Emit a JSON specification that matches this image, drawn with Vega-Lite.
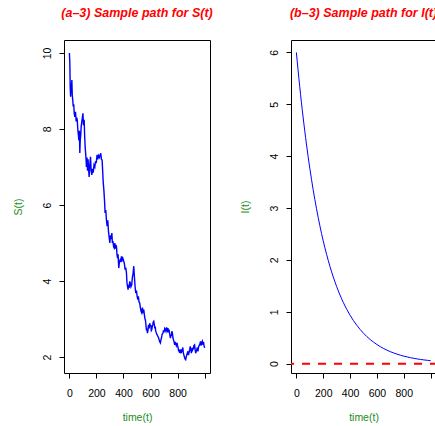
{
  "$schema": "https://vega.github.io/schema/vega-lite/v6.json",
  "autosize": {"type": "pad"},
  "padding": {"left": 12, "top": 6, "right": 0, "bottom": 0},
  "background": "white",
  "config": {
    "view": {"stroke": "#000000", "strokeWidth": 1},
    "axis": {
      "domain": false, "grid": false, "ticks": true, "tickColor": "#000000", "tickSize": 5, "tickWidth": 1,
      "labelFont": "Liberation Sans", "labelFontSize": 10.5, "labelColor": "#000000",
      "titleFont": "Liberation Sans", "titleFontSize": 10.5, "titleFontWeight": "normal", "titleColor": "#228B22"
    },
    "title": {"font": "Liberation Sans", "fontSize": 12.5, "fontStyle": "italic", "fontWeight": "bold", "color": "#FF0000", "anchor": "middle", "baseline": "alphabetic", "offset": 21}
  },
  "bounds": "flush",
  "spacing": 81,
  "hconcat": [
    {
      "width": 146, "height": 333,
      "title": "(a–3) Sample path for S(t)",
      "data": {"values": [
        {"t":0,"s":10.0},{"t":3,"s":9.75},{"t":6,"s":9.1},{"t":9,"s":8.85},{"t":12,"s":9.2},{"t":15,"s":9.0},{"t":18,"s":9.29},{"t":21,"s":8.9},{"t":25,"s":8.75},{"t":28,"s":8.59},{"t":32,"s":8.65},{"t":36,"s":8.4},{"t":40,"s":8.32},{"t":45,"s":8.45},{"t":50,"s":8.2},{"t":54,"s":8.3},{"t":58,"s":8.24},{"t":62,"s":8.0},{"t":65,"s":7.89},{"t":70,"s":7.7},{"t":74,"s":7.95},{"t":77,"s":7.37},{"t":80,"s":7.7},{"t":84,"s":7.85},{"t":87,"s":8.06},{"t":92,"s":8.2},{"t":96,"s":8.3},{"t":100,"s":8.41},{"t":104,"s":8.1},{"t":109,"s":8.24},{"t":113,"s":7.8},{"t":117,"s":7.5},{"t":122,"s":7.27},{"t":126,"s":7.0},{"t":130,"s":7.25},{"t":134,"s":6.9},{"t":138,"s":7.2},{"t":142,"s":6.95},{"t":146,"s":6.74},{"t":150,"s":7.0},{"t":156,"s":7.27},{"t":161,"s":6.9},{"t":166,"s":6.79},{"t":171,"s":6.95},{"t":176,"s":6.85},{"t":182,"s":7.05},{"t":188,"s":7.0},{"t":193,"s":7.15},{"t":198,"s":7.1},{"t":205,"s":7.32},{"t":210,"s":7.2},{"t":216,"s":7.3},{"t":222,"s":7.25},{"t":228,"s":7.32},{"t":232,"s":7.36},{"t":237,"s":7.2},{"t":242,"s":7.18},{"t":246,"s":6.9},{"t":250,"s":6.6},{"t":255,"s":6.39},{"t":260,"s":6.1},{"t":264,"s":5.79},{"t":269,"s":5.87},{"t":274,"s":5.6},{"t":279,"s":5.44},{"t":284,"s":5.6},{"t":289,"s":5.3},{"t":294,"s":5.15},{"t":299,"s":5.0},{"t":304,"s":5.2},{"t":309,"s":5.1},{"t":314,"s":5.26},{"t":318,"s":5.0},{"t":322,"s":5.05},{"t":327,"s":4.9},{"t":331,"s":4.87},{"t":336,"s":5.0},{"t":340,"s":4.85},{"t":344,"s":4.95},{"t":348,"s":4.91},{"t":352,"s":4.7},{"t":356,"s":4.6},{"t":360,"s":4.7},{"t":365,"s":4.34},{"t":370,"s":4.5},{"t":375,"s":4.55},{"t":380,"s":4.5},{"t":385,"s":4.65},{"t":390,"s":4.55},{"t":395,"s":4.6},{"t":402,"s":4.52},{"t":407,"s":4.45},{"t":412,"s":4.3},{"t":417,"s":4.35},{"t":422,"s":4.21},{"t":426,"s":3.95},{"t":430,"s":3.85},{"t":434,"s":3.77},{"t":438,"s":3.9},{"t":442,"s":3.82},{"t":446,"s":3.99},{"t":450,"s":3.95},{"t":455,"s":3.85},{"t":461,"s":3.9},{"t":466,"s":4.1},{"t":471,"s":4.2},{"t":476,"s":4.39},{"t":481,"s":4.1},{"t":486,"s":3.85},{"t":491,"s":3.68},{"t":496,"s":3.75},{"t":501,"s":3.6},{"t":506,"s":3.51},{"t":510,"s":3.6},{"t":515,"s":3.45},{"t":520,"s":3.42},{"t":525,"s":3.3},{"t":530,"s":3.2},{"t":535,"s":3.16},{"t":540,"s":3.3},{"t":545,"s":3.2},{"t":550,"s":3.25},{"t":555,"s":3.1},{"t":559,"s":3.0},{"t":562,"s":2.98},{"t":566,"s":2.85},{"t":570,"s":2.7},{"t":574,"s":2.75},{"t":577,"s":2.63},{"t":581,"s":2.7},{"t":585,"s":2.85},{"t":590,"s":2.75},{"t":594,"s":2.89},{"t":598,"s":2.8},{"t":602,"s":2.85},{"t":606,"s":2.7},{"t":609,"s":2.72},{"t":613,"s":2.8},{"t":617,"s":2.85},{"t":620,"s":2.92},{"t":624,"s":2.94},{"t":628,"s":2.85},{"t":632,"s":2.75},{"t":635,"s":2.8},{"t":638,"s":2.68},{"t":642,"s":2.65},{"t":646,"s":2.6},{"t":650,"s":2.58},{"t":655,"s":2.54},{"t":660,"s":2.5},{"t":664,"s":2.45},{"t":668,"s":2.4},{"t":673,"s":2.37},{"t":677,"s":2.45},{"t":681,"s":2.5},{"t":686,"s":2.6},{"t":692,"s":2.63},{"t":696,"s":2.7},{"t":700,"s":2.65},{"t":705,"s":2.75},{"t":710,"s":2.72},{"t":714,"s":2.68},{"t":719,"s":2.78},{"t":724,"s":2.7},{"t":729,"s":2.76},{"t":733,"s":2.65},{"t":737,"s":2.72},{"t":742,"s":2.6},{"t":747,"s":2.5},{"t":751,"s":2.6},{"t":755,"s":2.55},{"t":758,"s":2.68},{"t":762,"s":2.63},{"t":766,"s":2.5},{"t":770,"s":2.45},{"t":774,"s":2.4},{"t":779,"s":2.32},{"t":783,"s":2.4},{"t":787,"s":2.35},{"t":791,"s":2.3},{"t":796,"s":2.37},{"t":800,"s":2.3},{"t":804,"s":2.25},{"t":808,"s":2.15},{"t":811,"s":2.2},{"t":815,"s":2.11},{"t":819,"s":2.15},{"t":823,"s":2.1},{"t":827,"s":2.2},{"t":831,"s":2.15},{"t":835,"s":2.19},{"t":839,"s":2.25},{"t":843,"s":2.1},{"t":847,"s":2.05},{"t":851,"s":2.0},{"t":855,"s":1.95},{"t":860,"s":1.93},{"t":864,"s":2.0},{"t":868,"s":2.05},{"t":872,"s":2.1},{"t":877,"s":2.15},{"t":881,"s":2.05},{"t":885,"s":2.12},{"t":890,"s":2.2},{"t":894,"s":2.28},{"t":898,"s":2.2},{"t":902,"s":2.1},{"t":906,"s":2.18},{"t":909,"s":2.15},{"t":913,"s":2.25},{"t":917,"s":2.2},{"t":921,"s":2.3},{"t":926,"s":2.32},{"t":930,"s":2.2},{"t":934,"s":2.1},{"t":938,"s":2.15},{"t":942,"s":2.2},{"t":947,"s":2.25},{"t":951,"s":2.15},{"t":956,"s":2.28},{"t":960,"s":2.3},{"t":965,"s":2.35},{"t":970,"s":2.41},{"t":974,"s":2.3},{"t":978,"s":2.38},{"t":983,"s":2.42},{"t":988,"s":2.32},{"t":992,"s":2.4},{"t":996,"s":2.3},{"t":1000,"s":2.24}
      ]},
      "mark": {"type": "line", "color": "#0000FF", "strokeWidth": 1.4},
      "encoding": {
        "x": {"field": "t", "type": "quantitative", "title": "time(t)",
              "scale": {"domain": [-40, 1040], "nice": false, "zero": false},
              "axis": {"values": [0, 200, 400, 600, 800, 1000], "labelExpr": "datum.value == 1000 ? '' : datum.value", "labelPadding": 10, "titlePadding": 14, "labelOverlap": false}},
        "y": {"field": "s", "type": "quantitative", "title": "S(t)",
              "scale": {"domain": [1.58, 10.34], "nice": false, "zero": false},
              "axis": {"values": [2, 4, 6, 8, 10], "labelAngle": -90, "labelAlign": "center", "labelBaseline": "bottom", "labelPadding": 7, "titlePadding": 19, "labelOverlap": false}}
      }
    },
    {
      "width": 145, "height": 333,
      "title": "(b–3) Sample path for I(t)",
      "layer": [
        {
          "data": {"values": [
            {"t":0,"i":6.0},{"t":25,"i":5.342},{"t":50,"i":4.756},{"t":75,"i":4.234},{"t":100,"i":3.769},{"t":125,"i":3.355},{"t":150,"i":2.987},{"t":175,"i":2.659},{"t":200,"i":2.367},{"t":225,"i":2.108},{"t":250,"i":1.876},{"t":275,"i":1.67},{"t":300,"i":1.487},{"t":325,"i":1.324},{"t":350,"i":1.178},{"t":375,"i":1.049},{"t":400,"i":0.934},{"t":425,"i":0.832},{"t":450,"i":0.74},{"t":475,"i":0.659},{"t":500,"i":0.587},{"t":525,"i":0.522},{"t":550,"i":0.465},{"t":575,"i":0.414},{"t":600,"i":0.369},{"t":625,"i":0.328},{"t":650,"i":0.292},{"t":675,"i":0.26},{"t":700,"i":0.231},{"t":725,"i":0.206},{"t":750,"i":0.183},{"t":775,"i":0.163},{"t":800,"i":0.145},{"t":825,"i":0.13},{"t":850,"i":0.115},{"t":875,"i":0.103},{"t":900,"i":0.0914},{"t":925,"i":0.0813},{"t":950,"i":0.0724},{"t":975,"i":0.0644},{"t":1000,"i":0.0574}
          ]},
          "mark": {"type": "line", "color": "#0000FF", "strokeWidth": 1, "interpolate": "monotone"},
          "encoding": {
            "x": {"field": "t", "type": "quantitative", "title": "time(t)",
                  "scale": {"domain": [-40, 1040], "nice": false, "zero": false},
                  "axis": {"values": [0, 200, 400, 600, 800, 1000], "labelExpr": "datum.value == 1000 ? '' : datum.value", "labelPadding": 10, "titlePadding": 14, "labelOverlap": false}},
            "y": {"field": "i", "type": "quantitative", "title": "I(t)",
                  "scale": {"domain": [-0.18, 6.24], "nice": false, "zero": false},
                  "axis": {"values": [0, 1, 2, 3, 4, 5, 6], "labelAngle": -90, "labelAlign": "center", "labelBaseline": "bottom", "labelPadding": 7, "titlePadding": 19, "labelOverlap": false}}
          }
        },
        {
          "data": {"values": [{"h": 0}]},
          "mark": {"type": "rule", "color": "#FF0000", "strokeWidth": 2, "strokeDash": [8, 8], "strokeDashOffset": 2},
          "encoding": {"y": {"field": "h", "type": "quantitative"}}
        }
      ]
    }
  ]
}
